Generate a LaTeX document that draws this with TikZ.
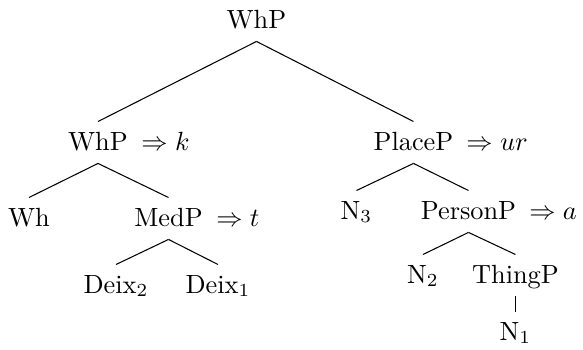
\documentclass[tikz,border=0pt]{standalone}
\usepackage{amsmath}
\usepackage{tikz}
\usetikzlibrary{positioning}
\tikzset{
  cat/.style={anchor=base, inner xsep=0pt, inner ysep=3.8pt, text height=6.83pt, text depth=1.1pt},
  spell/.style={inner sep=0pt},
  branch/.style={line width=0.4pt}
}

\begin{document}
\begin{tikzpicture}[x=0.38pt,y=-0.38pt]
\useasboundingbox (0,0) rectangle (583,349);
% categories
\node[cat] (root) at (256.5,28) {WhP};
\node[cat] (whpL) at (98,150) {WhP};
\node[cat] (placeP) at (413.5,150) {PlaceP};
\node[cat] (wh) at (29,226) {Wh};
\node[cat] (medP) at (168.5,226) {MedP};
\node[cat] (deixB) at (116,293) {Deix$_2$};
\node[cat] (deixA) at (218,293) {Deix$_1$};
\node[cat] (nC) at (356.5,219) {N$_3$};
\node[cat] (personP) at (468.5,219) {PersonP};
\node[cat] (nB) at (423,283) {N$_2$};
\node[cat] (thingP) at (515.5,283) {ThingP};
\node[cat] (nA) at (515.5,340) {N$_1$};
% spell-outs
\node[spell, base right=4.8pt of whpL] (spK) {$\Rightarrow k$};
\node[spell, base right=4.6pt of placeP] (spUr) {$\Rightarrow ur$};
\node[spell, base right=4.8pt of medP] (spT) {$\Rightarrow t$};
\node[spell, base right=4.6pt of personP] (spA) {$\Rightarrow a$};
% branches
\draw[branch] (root.south) -- (whpL.north);
\draw[branch] (root.south) -- (placeP.north);
\draw[branch] (whpL.south) -- (wh.north);
\draw[branch] (whpL.south) -- (medP.north);
\draw[branch] (medP.south) -- (deixB.north);
\draw[branch] (medP.south) -- (deixA.north);
\draw[branch] (placeP.south) -- (nC.north);
\draw[branch] (placeP.south) -- (personP.north);
\draw[branch] (personP.south) -- (nB.north);
\draw[branch] (personP.south) -- (thingP.north);
\draw[branch] (thingP.south) -- (nA.north);
\end{tikzpicture}
\end{document}
